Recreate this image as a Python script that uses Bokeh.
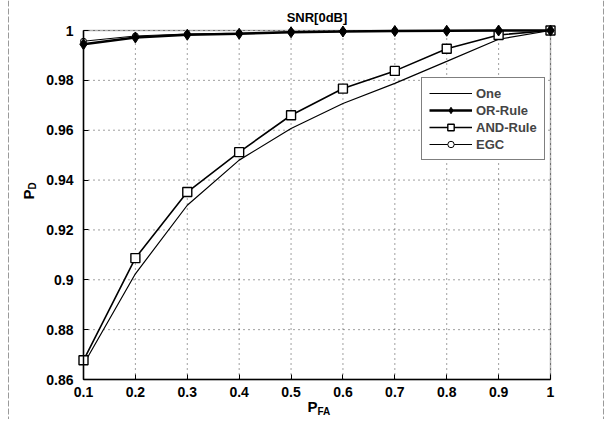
from bokeh.plotting import figure
from bokeh.models import (Range1d, FixedTicker, Legend, LegendItem, Label,
                          BoxAnnotation, Span)
from bokeh.embed import file_html
from bokeh.resources import INLINE

# ---- data ----
pfa = [0.1, 0.2, 0.3, 0.4, 0.5, 0.6, 0.7, 0.8, 0.9, 1.0]
one = [0.8660, 0.9024, 0.9299, 0.9480, 0.9607, 0.9707, 0.9788, 0.9876, 0.9965, 1.0]
or_rule = [0.9945, 0.9972, 0.9983, 0.9987, 0.9993, 0.9996, 0.9998, 0.9999, 1.0, 1.0]
and_rule = [0.8677, 0.9087, 0.9352, 0.9512, 0.9660, 0.9767, 0.9838, 0.9927, 0.9982, 1.0]
egc = [0.9957, 0.9978, 0.9986, 0.9989, 0.9994, 0.9996, 0.9998, 0.9999, 1.0, 1.0]

x_ticks = [0.1, 0.2, 0.3, 0.4, 0.5, 0.6, 0.7, 0.8, 0.9, 1.0]
x_tick_labels = ["0.1", "0.2", "0.3", "0.4", "0.5", "0.6", "0.7", "0.8", "0.9", "1"]
y_ticks = [0.86, 0.88, 0.9, 0.92, 0.94, 0.96, 0.98, 1.0]
y_tick_labels = ["0.86", "0.88", "0.9", "0.92", "0.94", "0.96", "0.98", "1"]

title_text = "SNR[0dB]"
x_label, x_sub = "P", "FA"
y_label, y_sub = "P", "D"
series_names = ["One", "OR-Rule", "AND-Rule", "EGC"]

FONT = "Liberation Sans"

# ---- layout: the frame fills the whole canvas; axes are pinned to the data box ----
W, H = 606, 419
X0, X1 = x_ticks[0], x_ticks[-1]
Y0, Y1 = y_ticks[0], y_ticks[-1]
BOX_L, BOX_R, BOX_T, BOX_B = 83, 550, 30, 379      # data box in canvas pixels
kx = (BOX_R - BOX_L) / (X1 - X0)
ky = (BOX_B - BOX_T) / (Y1 - Y0)
xs, xe = X0 - BOX_L / kx, X1 + (W - BOX_R) / kx
ys, ye = Y0 - (H - BOX_B) / ky, Y1 + BOX_T / ky


def dx(px):  # canvas x pixel -> data x
    return xs + px / kx


def dy(py):  # canvas y pixel (from top) -> data y
    return ye - py / ky


p = figure(width=W, height=H, output_backend="svg", toolbar_location=None,
           x_range=Range1d(xs, xe), y_range=Range1d(ys, ye),
           min_border=0, min_border_left=0, min_border_right=0,
           min_border_top=0, min_border_bottom=0)
p.background_fill_color = "white"
p.border_fill_color = "white"
p.outline_line_color = None
p.xgrid.visible = False
p.ygrid.visible = False

for ax, ticks, labels, loc, bnds in ((p.xaxis, x_ticks, x_tick_labels, Y0, (X0, X1)),
                                     (p.yaxis, y_ticks, y_tick_labels, X0, (Y0, Y1))):
    ax.fixed_location = loc
    ax.bounds = bnds
    ax.ticker = FixedTicker(ticks=ticks)
    ax.major_label_overrides = dict(zip(ticks, labels))
    ax.major_tick_in = 5
    ax.major_tick_out = 0
    ax.minor_tick_line_color = None
    ax.axis_line_color = "black"
    ax.axis_line_width = 1.5
    ax.major_tick_line_color = "black"
    ax.major_label_text_font = FONT
    ax.major_label_text_font_style = "bold"
    ax.major_label_text_font_size = "14px"
    ax.major_label_text_color = "black"
p.xaxis.major_label_standoff = 7
p.yaxis.major_label_standoff = 10

# scan frame of the figure (faint dashed border)
for sx in (8, 603):
    p.add_layout(Span(location=dx(sx), dimension="height", line_color="#9a9a9a",
                      line_width=1, line_dash="6 2"))

# dotted grid, limited to the data box
p.segment(x0=x_ticks, y0=[Y0] * len(x_ticks), x1=x_ticks, y1=[Y1] * len(x_ticks),
          line_color="black", line_alpha=0.75, line_dash="1 4", line_width=1)
p.segment(x0=[X0] * len(y_ticks), y0=y_ticks, x1=[X1] * len(y_ticks), y1=y_ticks,
          line_color="black", line_alpha=0.75, line_dash="1 4", line_width=1)

# box around the axes
p.add_layout(BoxAnnotation(left=X0, right=X1, bottom=Y0, top=Y1, fill_color=None,
                           fill_alpha=0, line_color="black", line_width=1.5,
                           level="underlay"))

# ---- series ----
r_one = p.line(pfa, one, line_color="black", line_width=1.2)

r_and_l = p.line(pfa, and_rule, line_color="black", line_width=1.6)
r_and_m = p.scatter(pfa, and_rule, marker="square", size=9, fill_color="white",
                    line_color="black", line_width=1.4)

r_egc_l = p.line(pfa, egc, line_color="black", line_width=1.0)
r_egc_m = p.scatter(pfa, egc, marker="circle", size=6, fill_color="white",
                    line_color="black", line_width=1.0)

r_or_l = p.line(pfa, or_rule, line_color="black", line_width=2.4)
r_or_m = p.scatter(pfa, or_rule, marker="diamond", size=11, fill_color="black",
                   line_color="black", line_width=1.0)

legend = Legend(items=[
    LegendItem(label=series_names[0], renderers=[r_one]),
    LegendItem(label=series_names[1], renderers=[r_or_l, r_or_m]),
    LegendItem(label=series_names[2], renderers=[r_and_l, r_and_m]),
    LegendItem(label=series_names[3], renderers=[r_egc_l, r_egc_m]),
], location=(421, 259))
legend.border_line_color = "black"
legend.border_line_width = 1.5
legend.background_fill_color = "white"
legend.background_fill_alpha = 1
legend.padding = 7
legend.spacing = 1
legend.margin = 0
legend.glyph_width = 43
legend.glyph_height = 16
legend.label_height = 16
legend.label_standoff = 4
legend.label_text_font = FONT
legend.label_text_font_style = "bold"
legend.label_text_font_size = "13px"
p.add_layout(legend, "center")


# ---- title and axis labels ----
def lab(px, py, text, size, angle=0, align="center"):
    p.add_layout(Label(x=dx(px), y=dy(py), text=text, x_units="data", y_units="data",
                       text_font=FONT, text_font_style="bold",
                       text_font_size=size, text_align=align, text_baseline="middle",
                       angle=angle, text_color="black"))


lab((BOX_L + BOX_R) / 2, 17, title_text, "13px")
lab(312, 406, x_label, "15px")
lab(317, 411, x_sub, "10px", align="left")
lab(28, 194, y_label, "15px", angle=1.5708)
lab(32, 189, y_sub, "10px", angle=1.5708, align="left")

open("out.html", "w").write(file_html(p, INLINE))
